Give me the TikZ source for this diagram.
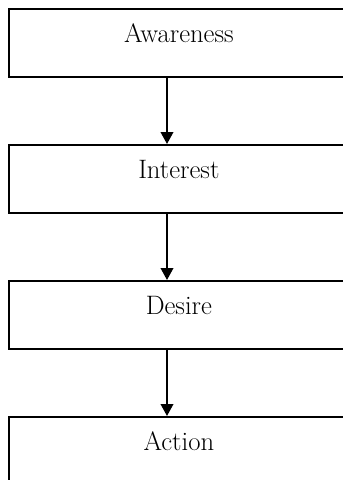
\documentclass[tikz,border=0pt]{standalone}
\usepackage{tikz}
\usetikzlibrary{arrows.meta,positioning}

\begin{document}
\begin{tikzpicture}[
  x=0.75pt, y=-0.75pt,
  node distance=49.7pt,
  stage/.style={rectangle, draw=black, line width=1.3pt, fill=white, align=center, minimum width=255pt, inner xsep=0pt, inner ysep=11.8pt, text height=13.7pt, text depth=13.7pt, font=\fontsize{20}{24}\selectfont},
  arrow/.style={-{Triangle[length=9pt, width=9.5pt]}, line width=1.3pt, draw=black}
]
\clip (0,0) rectangle (343,480);
\coordinate (spine) at (167,0);
\node[stage, anchor=north west] (awareness) at (8,8) {Awareness};
\node[stage, below=of awareness] (interest) {Interest};
\node[stage, below=of interest] (desire) {Desire};
\node[stage, below=of desire] (action) {Action};

\draw[arrow] (awareness.south -| spine) -- (interest.north -| spine);
\draw[arrow] (interest.south -| spine) -- (desire.north -| spine);
\draw[arrow] (desire.south -| spine) -- (action.north -| spine);
\end{tikzpicture}
\end{document}
